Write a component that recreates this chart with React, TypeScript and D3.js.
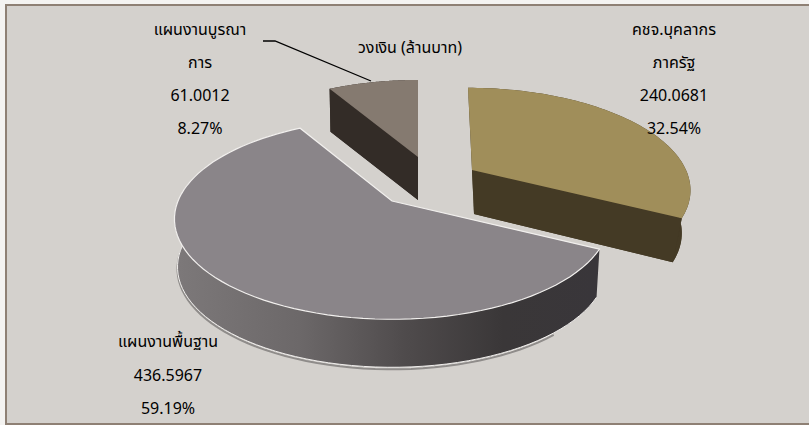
import React from "react";
import * as d3 from "d3";

const categories = ["คชจ.บุคลากรภาครัฐ", "แผนงานพื้นฐาน", "แผนงานบูรณาการ"];
const values = [240.0681, 436.5967, 61.0012];
const valueLabels = ["240.0681", "436.5967", "61.0012"];
const percentLabels = ["32.54%", "59.19%", "8.27%"];
const title = "วงเงิน (ล้านบาท)";

const W = 809, H = 425;
const FONT = "Tahoma, 'Noto Sans Thai', 'DejaVu Sans', 'Noto Sans', sans-serif";

type Geo = { cx: number; cy: number; A: number; B: number; p: number; s: number };
const slices = [
  { top: { cx: 472, cy: 170, A: 214, B: 97, p: 0.18, s: 4.7 }, bot: { cx: 474, cy: 214, A: 204, B: 97, p: 0.18, s: 2 }, fillTop: "#a08e5a", fillSide: "#443a25", stroke: "none" },
  { top: { cx: 392, cy: 201, A: 214, B: 97, p: 0.18, s: 0 }, bot: { cx: 392, cy: 249, A: 211, B: 97, p: 0.18, s: 0 }, fillTop: "#8a8589", fillSide: "url(#graySide)", stroke: "#f2f0ee" },
  { top: { cx: 418, cy: 157, A: 204, B: 90, p: 0.168, s: 0 }, bot: { cx: 418, cy: 200, A: 202, B: 90, p: 0.168, s: 0 }, fillTop: "#857a70", fillSide: "#332c27", stroke: "none" },
];

const project = (g: Geo, a: number): [number, number] => {
  const u = Math.sin(a), v = -Math.cos(a), d = 1 - g.p * v;
  return [g.cx + (g.A * u + g.s * v) / d, g.cy + (g.B * v) / d];
};

const pieArcs = d3.pie<number>().sort(null)(values);
const line = d3.line();
const sample = (a0: number, a1: number) => d3.range(0, 81).map((i) => a0 + ((a1 - a0) * i) / 80);

const labels = [
  { lines: ["คชจ.บุคลากร", "ภาครัฐ", valueLabels[0], percentLabels[0]], x: 674, ys: [35, 68, 101, 134] },
  { lines: ["แผนงานบูรณา", "การ", valueLabels[2], percentLabels[2]], x: 200, ys: [35, 68, 101, 134] },
  { lines: ["แผนงานพื้นฐาน", valueLabels[1], percentLabels[1]], x: 168, ys: [347, 381, 414] },
];

function Slice({ i }: { i: number }) {
  const { top, bot, fillTop, fillSide, stroke } = slices[i];
  const arc = pieArcs[i];
  const as = sample(arc.startAngle, arc.endAngle);
  const topArc = as.map((a) => project(top, a));
  const botArc = as.map((a) => project(bot, a));
  const topFace = line([[top.cx, top.cy], ...topArc])! + "Z";
  const botFace = line([[bot.cx, bot.cy], ...botArc])! + "Z";
  const band = line([...topArc, ...[...botArc].reverse()])! + "Z";
  const cutA = line([[top.cx, top.cy], topArc[0], botArc[0], [bot.cx, bot.cy]])! + "Z";
  const cutB = line([[top.cx, top.cy], topArc[80], botArc[80], [bot.cx, bot.cy]])! + "Z";
  const isGray = i === 1;
  return (
    <g>
      {isGray && (
        <path d={line(botArc.slice(8, 62))!} transform="translate(0,2)" fill="none" stroke="#8f8c8a" strokeWidth={2} />
      )}
      <path d={botFace} fill={fillSide} />
      <path d={band} fill={fillSide} />
      {!isGray && <path d={cutA} fill={fillSide} />}
      {!isGray && <path d={cutB} fill={fillSide} />}
      {isGray && <path d={line(botArc.slice(0, 62))!} fill="none" stroke="#f2f0ee" strokeWidth={1} />}
      <path d={topFace} fill={fillTop} stroke={stroke} strokeWidth={stroke === "none" ? 0 : 1.2} />
    </g>
  );
}

export default function App() {
  return (
    <svg width={W} height={H} viewBox={`0 0 ${W} ${H}`} style={{ position: "fixed", left: 0, top: 0, background: "#f4f3f1" }} fontFamily={FONT}>
      <defs>
        <linearGradient id="graySide" gradientUnits="userSpaceOnUse" x1={172} x2={596} y1={0} y2={0}>
          <stop offset="0" stopColor="#7d797a" />
          <stop offset="0.3" stopColor="#6c6869" />
          <stop offset="0.55" stopColor="#4f4b4c" />
          <stop offset="0.78" stopColor="#3a3738" />
          <stop offset="1" stopColor="#39363a" />
        </linearGradient>
      </defs>
      <rect x={6} y={5} width={W + 10} height={419} fill="#d4d1cd" stroke="#8e8074" strokeWidth={2} />
      <Slice i={0} />
      <Slice i={2} />
      <Slice i={1} />
      <path d={line([[263, 41], [275, 41], [371, 81]])!} fill="none" stroke="#000" strokeWidth={1.3} />
      <text x={410} y={53} textAnchor="middle" fontSize={16} fill="#000">{title}</text>
      {labels.map((l, i) => (
        <g key={categories[i]}>
          {l.lines.map((t, j) => (
            <text key={j} x={l.x} y={l.ys[j]} textAnchor="middle" fontSize={16} fill="#000">{t}</text>
          ))}
        </g>
      ))}
    </svg>
  );
}
